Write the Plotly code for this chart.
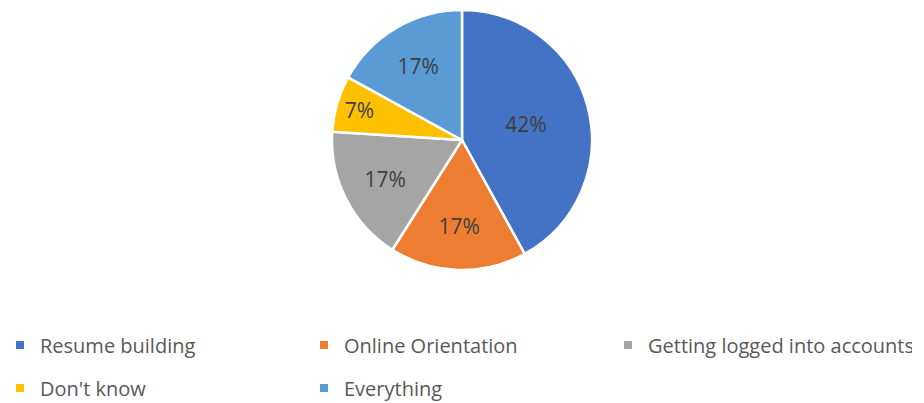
import plotly.graph_objects as go

labels = ["Resume building", "Online Orientation", "Getting logged into accounts", "Don't know", "Everything"]
values = [42, 17, 17, 7, 17]
colors = ["#4472C4", "#ED7D31", "#A5A5A5", "#FFC000", "#5B9BD5"]
legend_rows = ["legend", "legend", "legend", "legend2", "legend2"]

W, H = 924, 403
fig = go.Figure()
fig.add_trace(go.Pie(
    labels=labels, values=values, sort=False, direction="clockwise", rotation=0,
    marker=dict(colors=colors, line=dict(color="white", width=2.5)),
    textinfo="percent", texttemplate="%{percent:.0%}",
    textposition="inside", insidetextorientation="horizontal",
    textfont=dict(family="Open Sans", size=21, color="#404040"),
    domain=dict(x=[0, 1], y=[1 - 270 / H, 1 - 10 / H]),
    showlegend=False, hoverinfo="label+percent",
))
for lab, col, lg in zip(labels, colors, legend_rows):
    fig.add_trace(go.Scatter(
        x=[None], y=[None], mode="markers", name=lab,
        marker=dict(symbol="square", size=8, color=col),
        legend=lg, showlegend=True, hoverinfo="skip",
    ))

legend_common = dict(
    orientation="h", xanchor="left", yanchor="middle",
    font=dict(family="Open Sans", size=20, color="#595959"),
    entrywidth=259, entrywidthmode="pixels",
    bgcolor="rgba(0,0,0,0)", borderwidth=0, itemclick=False, itemdoubleclick=False,
)
fig.update_layout(
    width=W, height=H,
    margin=dict(l=0, r=0, t=0, b=0, autoexpand=False),
    paper_bgcolor="white", plot_bgcolor="white",
    xaxis=dict(visible=False), yaxis=dict(visible=False),
    legend=dict(x=0, y=1 - 345 / H, **legend_common),
    legend2=dict(x=0, y=1 - 388 / H, **legend_common),
)
fig.write_html("out.html", config={"displayModeBar": False},
               post_script="document.body.style.margin='0';")
